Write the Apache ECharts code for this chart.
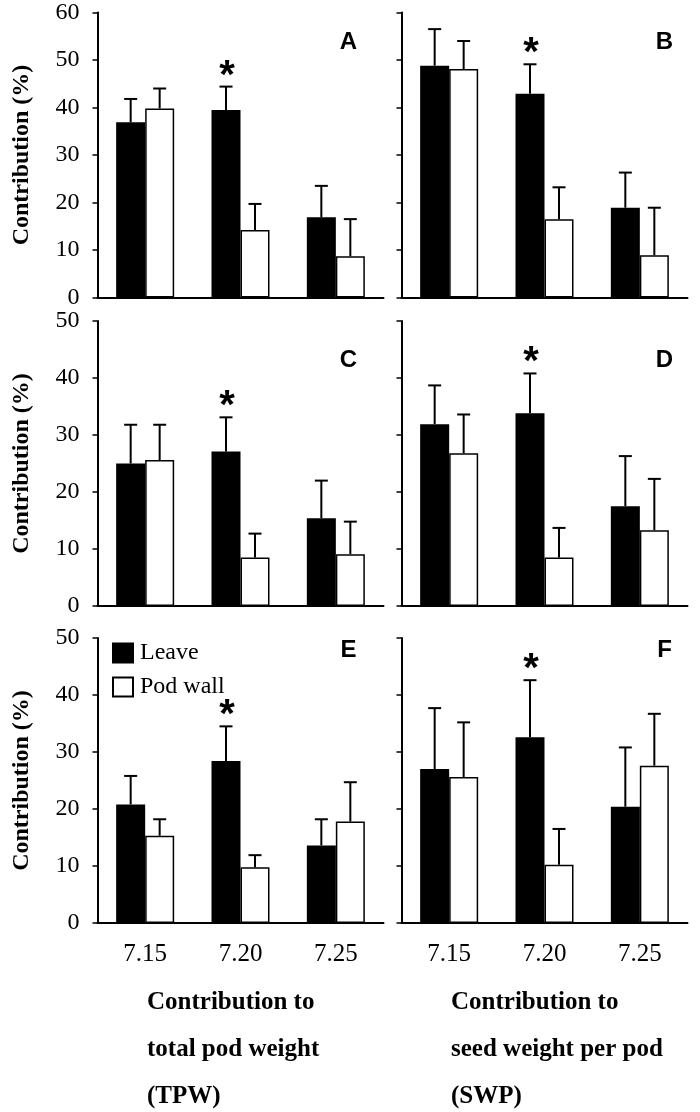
<!DOCTYPE html>
<html><head><meta charset="utf-8">
<script src="https://cdn.jsdelivr.net/npm/echarts@6/dist/echarts.min.js"></script>
<style>html,body{margin:0;padding:0;background:#fff}#c{width:700px;height:1112px}</style>
</head><body><div id="c"></div>
<script>
// ---- data ----
const categories = ['7.15', '7.20', '7.25'];
const panelLetters = ['A', 'B', 'C', 'D', 'E', 'F'];
const yMax = [60, 60, 50, 50, 50, 50];
const yTickStep = 10;
const seriesNames = ['Leave', 'Pod wall'];

// Panel A (TPW, row 1)
const leaveA = [36.9, 39.5, 16.9];
const leaveErrA = [4.9, 4.9, 6.6];
const podA = [39.8, 14.2, 8.7];
const podErrA = [4.2, 5.5, 7.8];
// Panel B (SWP, row 1)
const leaveB = [48.8, 42.9, 18.9];
const leaveErrB = [7.7, 6.2, 7.4];
const podB = [48.1, 16.5, 8.9];
const podErrB = [5.9, 6.7, 10.0];
// Panel C (TPW, row 2)
const leaveC = [25.0, 27.1, 15.4];
const leaveErrC = [6.8, 6.0, 6.6];
const podC = [25.6, 8.5, 9.1];
const podErrC = [6.2, 4.2, 5.7];
// Panel D (SWP, row 2)
const leaveD = [31.9, 33.8, 17.5];
const leaveErrD = [6.8, 7.0, 8.8];
const podD = [26.8, 8.5, 13.3];
const podErrD = [6.8, 5.2, 9.0];
// Panel E (TPW, row 3)
const leaveE = [20.8, 28.4, 13.6];
const leaveErrE = [5.0, 6.1, 4.6];
const podE = [15.3, 9.8, 17.8];
const podErrE = [2.9, 2.1, 6.9];
// Panel F (SWP, row 3)
const leaveF = [27.0, 32.6, 20.4];
const leaveErrF = [10.7, 10.0, 10.4];
const podF = [25.6, 10.2, 27.6];
const podErrF = [9.6, 6.3, 9.1];

// significance marks (leave bar at 7.20 in each panel)
const sigLeave = [
  [false, true, false], [false, true, false],
  [false, true, false], [false, true, false],
  [false, true, false], [false, true, false]
];
const yAxisTitle = 'Contribution (%)';
const bottomTitles = [
  ['Contribution to', 'total pod weight', '(TPW)'],
  ['Contribution to', 'seed weight per pod', '(SWP)']
];

const panels = [
  [leaveA, leaveErrA, podA, podErrA],
  [leaveB, leaveErrB, podB, podErrB],
  [leaveC, leaveErrC, podC, podErrC],
  [leaveD, leaveErrD, podD, podErrD],
  [leaveE, leaveErrE, podE, podErrE],
  [leaveF, leaveErrF, podF, podErrF]
];

// ---- layout ----
const rowTops = [12.5, 321, 638];
const plotH = 285;
const colLefts = [97.5, 401.5];
const plotW = 286;
const BAR_W = 29;
const CAP_W = 13;
const SERIF = "'Liberation Serif', 'Times New Roman', serif";
const SANS = "'Liberation Sans', Arial, sans-serif";

const grid = [], xAxis = [], yAxis = [], series = [], graphic = [];

panels.forEach((p, i) => {
  const row = Math.floor(i / 2), col = i % 2;
  grid.push({ left: colLefts[col], top: rowTops[row], width: plotW, height: plotH, containLabel: false });
  xAxis.push({
    gridIndex: i, type: 'category', data: categories,
    axisLine: { lineStyle: { color: '#000', width: 2 } },
    axisTick: { alignWithLabel: true, length: 5, lineStyle: { color: '#000', width: 1.5 } },
    axisLabel: { show: row === 2, fontFamily: SERIF, fontSize: 25, color: '#000', margin: 19 },
    splitLine: { show: false }
  });
  yAxis.push({
    gridIndex: i, type: 'value', min: 0, max: yMax[i], interval: yTickStep,
    axisLine: { show: true, lineStyle: { color: '#000', width: 2 } },
    axisTick: { show: true, length: 5, lineStyle: { color: '#000', width: 1.5 } },
    axisLabel: { show: col === 0, fontFamily: SERIF, fontSize: 24, color: '#000', margin: 18 },
    splitLine: { show: false },
    name: col === 0 ? yAxisTitle : '',
    nameLocation: 'middle', nameGap: 64,
    nameTextStyle: { fontFamily: SERIF, fontWeight: 'bold', fontSize: 24, color: '#000' }
  });
  const [lv, le, pv, pe] = p;
  series.push({
    name: seriesNames[0], type: 'bar', xAxisIndex: i, yAxisIndex: i, data: lv,
    barWidth: BAR_W, barGap: '0%',
    itemStyle: { color: '#000', borderColor: '#000', borderWidth: 1.5 }, z: 2
  });
  series.push({
    name: seriesNames[1], type: 'bar', xAxisIndex: i, yAxisIndex: i, data: pv,
    barWidth: BAR_W, barGap: '0%',
    itemStyle: { color: '#fff', borderColor: '#000', borderWidth: 1.5 }, z: 2
  });
  [[lv, le, -1, sigLeave[i]], [pv, pe, 1, null]].forEach(([vals, errs, side, sig]) => {
    series.push({
      type: 'custom', xAxisIndex: i, yAxisIndex: i, z: 3, silent: true,
      encode: { x: 0, y: [1, 2] },
      data: vals.map((v, j) => [j, v, v + errs[j], sig && sig[j] ? 1 : 0]),
      renderItem: (params, api) => {
        const base = api.coord([api.value(0), api.value(1)]);
        const top = api.coord([api.value(0), api.value(2)]);
        const x = base[0] + side * BAR_W / 2;
        const children = [
          { type: 'line', shape: { x1: x, y1: base[1], x2: x, y2: top[1] }, style: { stroke: '#000', lineWidth: 2 } },
          { type: 'line', shape: { x1: x - CAP_W / 2, y1: top[1], x2: x + CAP_W / 2, y2: top[1] }, style: { stroke: '#000', lineWidth: 2 } }
        ];
        if (api.value(3) === 1) {
          children.push({ type: 'text', style: { text: '*', x: x + 1, y: top[1] + 10, font: 'bold 40px ' + SANS, fill: '#000', align: 'center', verticalAlign: 'bottom', textAlign: 'center', textVerticalAlign: 'bottom' } });
        }
        return { type: 'group', children };
      }
    });
  });
  // panel letter
  graphic.push({
    type: 'text',
    x: colLefts[col] + (col === 0 ? 251 : 263), y: rowTops[row] + [30, 39, 12][row],
    style: { text: panelLetters[i], font: 'bold 24px ' + SANS, fill: '#000', align: 'center', verticalAlign: 'middle', textAlign: 'center', textVerticalAlign: 'middle' }
  });
});

bottomTitles.forEach((lines, c) => {
  lines.forEach((t, k) => {
    graphic.push({
      type: 'text', x: [147, 451][c], y: 1003 + k * 47,
      style: { text: t, font: 'bold 25px ' + SERIF, fill: '#000', align: 'left', verticalAlign: 'middle', textAlign: 'left', textVerticalAlign: 'middle' }
    });
  });
});

const option = {
  animation: false,
  backgroundColor: '#fff',
  grid, xAxis, yAxis, series, graphic,
  legend: {
    data: seriesNames, orient: 'vertical', left: 107, top: 636,
    itemWidth: 20, itemHeight: 19, itemGap: 10, icon: 'rect',
    textStyle: { fontFamily: SERIF, fontSize: 24, color: '#000', padding: [0, 0, 0, 2] }
  }
};
const chart = echarts.init(document.getElementById('c'), null, { renderer: 'canvas' });
chart.setOption(option);
</script></body></html>
